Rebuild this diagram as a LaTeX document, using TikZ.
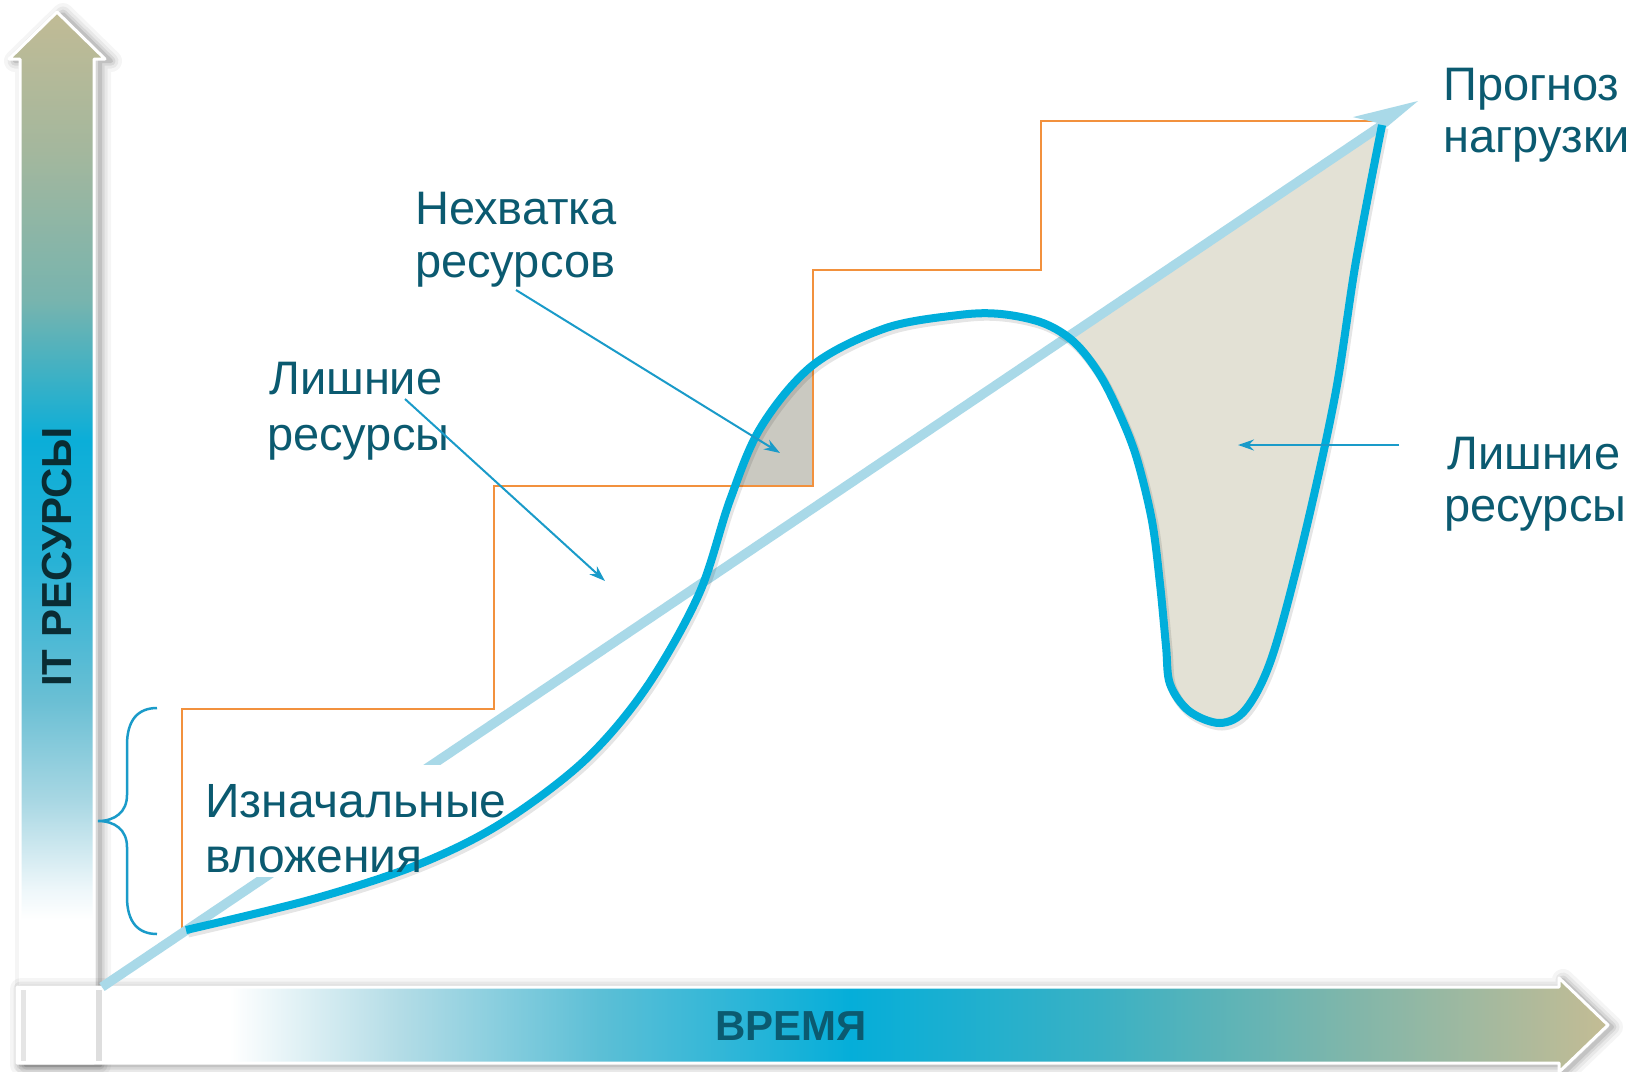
\documentclass[tikz,border=0pt]{standalone}
\usepackage{fontspec}
\setmainfont{Liberation Sans}
\usetikzlibrary{arrows.meta}

\definecolor{txt}{HTML}{0B5A70}
\definecolor{axtxt}{HTML}{0A2C33}
\definecolor{cyanc}{HTML}{00AEDB}
\definecolor{diagc}{HTML}{A9D9E8}
\definecolor{orng}{HTML}{F2913D}
\definecolor{callc}{HTML}{1A9BC9}
\definecolor{gfill}{HTML}{CAC9C1}
\definecolor{bfill}{HTML}{E3E1D5}
% vertical gradient colours
\definecolor{va}{HTML}{C1BB95}
\definecolor{vb}{HTML}{A4B79D}
\definecolor{vc}{HTML}{78B4AE}
\definecolor{vd}{HTML}{0BAED8}
\definecolor{ve}{HTML}{27B2D6}
\definecolor{vf}{HTML}{6ABFD4}
\definecolor{vg}{HTML}{A8D7E3}
\definecolor{vh}{HTML}{EEF7FA}
% horizontal gradient colours
\definecolor{ha}{HTML}{B3DCE6}
\definecolor{hb}{HTML}{5CBFD6}
\definecolor{hc}{HTML}{05AED9}
\definecolor{hd}{HTML}{3AB1C4}
\definecolor{he}{HTML}{80B6AA}
\definecolor{hf}{HTML}{C4BC94}

\pgfdeclareverticalshading{vgrad}{100bp}{color(0bp)=(white); color(31.8bp)=(white); color(33.23bp)=(vh); color(37.51bp)=(vg); color(42.27bp)=(vf); color(48.93bp)=(ve); color(54.64bp)=(vd); color(61.3bp)=(vc); color(68.43bp)=(vb); color(75bp)=(va); color(100bp)=(va)}
\pgfdeclarehorizontalshading{hgrad}{100bp}{color(0bp)=(white); color(31.69bp)=(white); color(37.04bp)=(ha); color(43.32bp)=(hb); color(51.18bp)=(hc); color(59.04bp)=(hd); color(66.89bp)=(he); color(75bp)=(hf); color(100bp)=(hf)}

\begin{document}
\begin{tikzpicture}[x=1pt,y=-1pt,
  lbl/.style={text=txt, inner sep=0pt, anchor=base west, font=\fontsize{47}{56}\selectfont},
  biglbl/.style={text=txt, inner sep=0pt, anchor=base west, font=\fontsize{48}{57}\selectfont},
  axlbl/.style={inner sep=0pt, font=\bfseries\fontsize{42}{50}\selectfont},
  callout/.style={draw=callc, line width=2pt, -{Stealth[length=16pt,width=11pt]}},
  stepline/.style={draw=orng, line width=2pt},
  glow/.style={draw=black, line join=round}]
\useasboundingbox (0,0) rectangle (1635,1071);
\fill[white] (0,0) rectangle (1635,1071);

% ---------- axes ----------
\def\varrow{(20,1063) -- (20,59) -- (9,59) -- (57,12) -- (105,59) -- (94,59) -- (94,1063) -- cycle}
\def\harrow{(17,987) -- (1559,987) -- (1559,978) -- (1608,1025) -- (1559,1072) -- (1559,1063) -- (17,1063) -- cycle}
\foreach \w/\o in {22/0.04,15/0.05,9/0.07,4/0.10}{
  \draw[glow, line width=\w pt, opacity=\o, shift={(6,2)}] \varrow;}
\shade[shading=vgrad] \varrow;
\draw[white, line width=3pt, line join=round] \varrow;
\foreach \w/\o in {22/0.04,15/0.05,9/0.07,4/0.09}{
  \draw[glow, line width=\w pt, opacity=\o, shift={(4,2)}] \harrow;}
\shade[shading=hgrad] \harrow;
\draw[white, line width=3pt, line join=round] \harrow;
% edges of vertical shaft seen through the horizontal one
\draw[black, opacity=0.10, line width=5pt] (23,990) -- (23,1061);
\draw[black, opacity=0.13, line width=6pt] (99,990) -- (99,1061);
\draw[white, line width=2.5pt] (20,988) -- (20,1062) (94,988) -- (94,1062);

\node[axlbl, rotate=90, text=axtxt] (ylab) at (57,557) {IT РЕСУРСЫ};
\node[axlbl, text=txt] (xlab) at (791,1026) {ВРЕМЯ};

% ---------- demand curve path ----------
\def\mainpath{plot[smooth, tension=0.55] coordinates {(186,930) (313,899) (417,865) (500,824) (584,761) (646,688) (699,594) (730,500) (761,427) (813,365) (886,328) (959,315) (1001,314) (1043,323) (1074,342) (1100,375) (1121,417) (1137,459) (1152,521) (1160,584) (1166,646) (1170,684) (1189,711) (1220,723) (1246,709) (1272,657) (1303,542) (1335,396) (1356,261) (1382,125)}}

% ---------- filled areas ----------
\begin{scope}
  \clip (600,300) rectangle (813,486);
  \fill[gfill] \mainpath -- cycle;
\end{scope}
\begin{scope}
  \clip (900,449.7) -- (1635,-45.2) -- (1635,1071) -- (900,1071) -- cycle;
  \fill[bfill] \mainpath -- cycle;
\end{scope}

% ---------- capacity steps ----------
\draw[stepline] (182,930) -- (182,709) -- (494,709) -- (494,486) -- (813,486) -- (813,270) -- (1041,270) -- (1041,121) -- (1380,121);

% ---------- forecast line ----------
\coordinate (fs) at (102,987);
\coordinate (fe) at (1379.8,126.7);
\coordinate (ft) at (1418,101);
\draw[diagc, line width=9.5pt] (fs) -- (fe);
\fill[diagc] (ft) -- (1352.9,117.1) -- (1377.2,122.8) -- (1382.5,130.6) -- cycle;

% white plate behind the lower-left label
\fill[white] (186,765) rectangle (565,877);

% ---------- demand curve ----------
\draw[black, opacity=0.10, line width=9pt, shift={(2,3)}] \mainpath;
\draw[cyanc, line width=8pt, line join=round] \mainpath;

% ---------- brace ----------
\draw[callc, line width=2.5pt] (157,708) .. controls (138,708) and (127,720) .. (127,745) -- (127,795) .. controls (127,812) and (115,821) .. (98,821) .. controls (115,821) and (127,830) .. (127,847) -- (127,897) .. controls (127,922) and (138,934) .. (157,934);

% ---------- labels ----------
\node[lbl] (short1) at (415,224) {Нехватка};
\node[lbl] (short2) at (415,277) {ресурсов};
\node[lbl] (exl1) at (269,394) {Лишние};
\node[lbl] (exl2) at (267,450) {ресурсы};
\node[lbl] (exr1) at (1447,469) {Лишние};
\node[lbl] (exr2) at (1444,521) {ресурсы};
\node[lbl] (fc1) at (1443,100) {Прогноз};
\node[lbl] (fc2) at (1443,152) {нагрузки};
\node[biglbl] (init1) at (205,817) {Изначальные};
\node[biglbl] (init2) at (205,872) {вложения};

% ---------- callouts ----------
\coordinate (c1s) at (516,290);
\coordinate (c1e) at (780,453);
\coordinate (c2s) at (405,399);
\coordinate (c2e) at (605,581);
\coordinate (c3s) at (1399,445);
\coordinate (c3e) at (1238,445);
\draw[callout] (c1s) -- (c1e);
\draw[callout] (c2s) -- (c2e);
\draw[callout] (c3s) -- (c3e);
\end{tikzpicture}
\end{document}
